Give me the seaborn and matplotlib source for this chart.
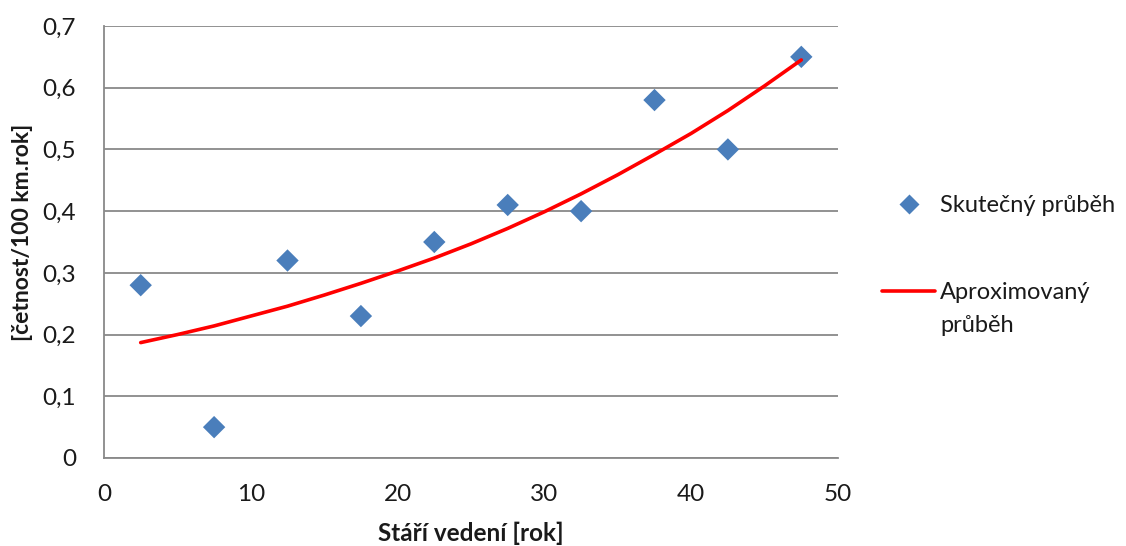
import matplotlib
matplotlib.use("Agg")
import matplotlib.pyplot as plt
import seaborn as sns
import pandas as pd
from matplotlib.lines import Line2D
from matplotlib.ticker import FuncFormatter

sns.set_style("white")
plt.rcParams['font.family'] = ['Lato', 'DejaVu Sans']

# Data
stari = [2.5, 7.5, 12.5, 17.5, 22.5, 27.5, 32.5, 37.5, 42.5, 47.5]
cetnost = [0.28, 0.05, 0.32, 0.23, 0.35, 0.41, 0.40, 0.58, 0.50, 0.65]
aprox_x = [2.5, 5, 7.5, 10, 12.5, 15, 17.5, 20, 22.5, 25, 27.5, 30, 32.5, 35,
           37.5, 40, 42.5, 45, 47.5]
aprox_y = [0.187, 0.200, 0.214, 0.230, 0.246, 0.264, 0.283, 0.303, 0.324, 0.347,
           0.372, 0.399, 0.428, 0.459, 0.492, 0.526, 0.563, 0.603, 0.645]
x_ticks = [0, 10, 20, 30, 40, 50]
y_ticks = [0, 0.1, 0.2, 0.3, 0.4, 0.5, 0.6, 0.7]
label_skutecny = "Skutečný průběh"
label_aprox_1 = "Aproximovaný"
label_aprox_2 = "průběh"
xlabel = "Stáří vedení [rok]"
ylabel = "[četnost/100 km.rok]"

df_pts = pd.DataFrame({"x": stari, "y": cetnost})
df_line = pd.DataFrame({"x": aprox_x, "y": aprox_y})

fig = plt.figure(figsize=(11.26, 5.46), dpi=100)
ax = fig.add_axes([104/1126, 88/546, 734/1126, 432/546])

gray = "#898989"
txt = "#1a1a1a"
sns.lineplot(data=df_line, x="x", y="y", ax=ax, color="#ff0000", linewidth=2.6,
             zorder=4, legend=False)
sns.scatterplot(data=df_pts, x="x", y="y", ax=ax, marker="D", s=130,
                color="#4a7ebb", edgecolor="none", zorder=3, legend=False)

ax.set_xlim(0, 50)
ax.set_ylim(0, 0.7)
ax.set_xticks(x_ticks)
ax.set_yticks(y_ticks)
ax.yaxis.set_major_formatter(FuncFormatter(lambda v, p: "0" if abs(v) < 1e-9 else f"{v:.1f}".replace(".", ",")))
ax.xaxis.set_major_formatter(FuncFormatter(lambda v, p: f"{int(round(v))}"))
ax.grid(axis="y", color=gray, linewidth=1.3)
ax.set_axisbelow(True)
for s in ["top", "right"]:
    ax.spines[s].set_visible(False)
for s in ["left", "bottom"]:
    ax.spines[s].set_color(gray)
    ax.spines[s].set_linewidth(1.3)
ax.tick_params(axis="both", which="major", direction="out", length=6, width=1.3,
               color=gray, labelsize=17.5, labelcolor=txt)
ax.tick_params(axis="x", pad=13)
ax.tick_params(axis="y", pad=14)

ax.set_xlabel(xlabel, fontsize=17.5, fontweight="bold", labelpad=12, color=txt)
ax.set_ylabel(ylabel, fontsize=16.5, fontweight="bold", color=txt)
ax.yaxis.set_label_coords(-0.097, 0.523)

handles = [
    Line2D([0], [0], marker="D", color="none", markerfacecolor="#4a7ebb",
           markeredgecolor="none", markersize=10),
    Line2D([0], [0], color="#ff0000", linewidth=2.6),
]
leg = fig.legend(handles, [label_skutecny, label_aprox_1], loc="upper left",
                 bbox_to_anchor=(882/1126, 1 - 195/546), frameon=False,
                 fontsize=17, handlelength=2.25, handletextpad=0.2,
                 labelspacing=2.8, borderaxespad=0, borderpad=0)
for t in leg.get_texts():
    t.set_color(txt)
fig.text(940/1126, 1 - 325/546, label_aprox_2, fontsize=17, color=txt,
         ha="left", va="center")

fig.savefig("out.png", dpi=100)
